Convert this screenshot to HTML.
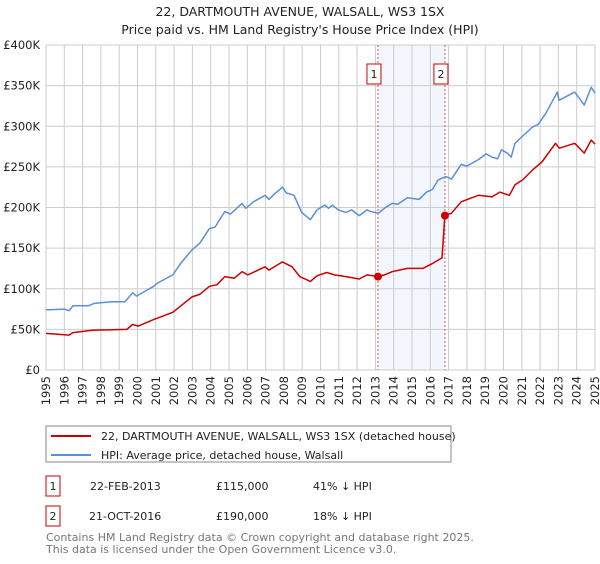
<!DOCTYPE html>
<html><head><meta charset="utf-8"><style>
body{margin:0;background:#fff;font-family:"DejaVu Sans","Liberation Sans",sans-serif;}
svg text{font-family:"DejaVu Sans","Liberation Sans",sans-serif;}
</style></head><body>
<svg id="c" width="600" height="560" xmlns="http://www.w3.org/2000/svg">
<text x="300" y="16" text-anchor="middle" font-size="12.5" fill="#222">22, DARTMOUTH AVENUE, WALSALL, WS3 1SX</text>
<text x="300" y="34" text-anchor="middle" font-size="12.5" fill="#222">Price paid vs. HM Land Registry's House Price Index (HPI)</text>
<g id="plot"></g>
<rect x="46" y="426" width="405" height="36" fill="none" stroke="#888"/>
<line x1="51" y1="436" x2="91" y2="436" stroke="#cc0000" stroke-width="2"/>
<text x="101" y="440" font-size="11" fill="#222">22, DARTMOUTH AVENUE, WALSALL, WS3 1SX (detached house)</text>
<line x1="51" y1="455" x2="91" y2="455" stroke="#5b8fd6" stroke-width="2"/>
<text x="101" y="459" font-size="11" fill="#222">HPI: Average price, detached house, Walsall</text>
<rect x="46" y="476" width="14" height="20" fill="none" stroke="#cc0000"/>
<text x="53" y="490" text-anchor="middle" font-size="11" fill="#222">1</text>
<text x="90" y="490" font-size="11" fill="#222">22-FEB-2013</text>
<text x="216" y="490" font-size="11" fill="#222">£115,000</text>
<text x="313" y="490" font-size="11" fill="#222">41% ↓ HPI</text>
<rect x="46" y="506" width="14" height="20" fill="none" stroke="#cc0000"/>
<text x="53" y="520" text-anchor="middle" font-size="11" fill="#222">2</text>
<text x="89" y="520" font-size="11" fill="#222">21-OCT-2016</text>
<text x="216" y="520" font-size="11" fill="#222">£190,000</text>
<text x="313" y="520" font-size="11" fill="#222">18% ↓ HPI</text>
<text x="46" y="541" font-size="11" fill="#777">Contains HM Land Registry data © Crown copyright and database right 2025.</text>
<text x="46" y="553" font-size="11" fill="#777">This data is licensed under the Open Government Licence v3.0.</text>
</svg>
<script>
const yTicks=[0,50,100,150,200,250,300,350,400];
const yTickLabels=["£0","£50K","£100K","£150K","£200K","£250K","£300K","£350K","£400K"];
const xYears=[1995,1996,1997,1998,1999,2000,2001,2002,2003,2004,2005,2006,2007,2008,2009,2010,2011,2012,2013,2014,2015,2016,2017,2018,2019,2020,2021,2022,2023,2024,2025];
const hpiYears=[1995.0,1996.0,1996.26,1996.47,1997.31,1997.63,1998.57,1999.31,1999.73,1999.94,2000.57,2000.88,2001.09,2001.93,2002.35,2002.98,2003.40,2003.93,2004.24,2004.77,2005.08,2005.71,2005.92,2006.34,2006.97,2007.18,2007.50,2007.92,2008.13,2008.55,2008.97,2009.45,2009.81,2010.23,2010.44,2010.65,2010.97,2011.39,2011.70,2012.12,2012.54,2012.75,2013.17,2013.49,2013.91,2014.22,2014.75,2015.38,2015.80,2016.11,2016.43,2016.85,2017.16,2017.69,2018.00,2018.63,2019.05,2019.37,2019.68,2019.89,2020.21,2020.42,2020.63,2021.05,2021.58,2021.89,2022.31,2022.94,2023.04,2023.89,2024.41,2024.79,2025.0];
const hpiValues=[74,75,73,79,79,82,84,84,95,91,99,103,107,117,131,148,156,174,176,195,192,205,199,207,215,210,217,225,218,215,194,185,197,203,199,203,197,194,197,190,197,195,193,199,205,204,212,210,219,222,234,238,235,253,251,259,266,262,260,271,267,262,279,288,299,302,316,342,332,342,326,348,341];
const priceYears=[1995.0,1996.26,1996.47,1997.52,1999.41,1999.73,2000.04,2000.88,2001.93,2002.98,2003.40,2003.93,2004.35,2004.77,2005.29,2005.71,2006.03,2006.97,2007.18,2007.92,2008.45,2008.87,2009.45,2009.81,2010.34,2010.76,2011.39,2012.12,2012.54,2013.14,2013.49,2013.91,2014.75,2015.59,2016.11,2016.64,2016.80,2017.16,2017.69,2018.63,2019.37,2019.79,2020.32,2020.63,2021.05,2021.58,2022.10,2022.84,2023.05,2023.89,2024.41,2024.79,2025.0];
const priceValues=[45,43,46,49,50,56,54,62,71,90,93,103,105,115,113,121,117,127,123,133,127,115,109,116,120,117,115,112,117,115,117,121,125,125,131,138,190,193,207,215,213,219,215,228,234,246,256,279,273,279,267,283,278];
const saleYears=[2013.14,2016.80];
const saleValues=[115,190];
const saleLabels=["1","2"];

const X0=46,X1=595,Y0=370,Y1=45;
const xs=y=>X0+(y-1995)/30*(X1-X0);
const ys=v=>Y0-v/400*(Y0-Y1);
const NS="http://www.w3.org/2000/svg";
const g=document.getElementById('plot');
function mk(t,a){const e=document.createElementNS(NS,t);for(const k in a)e.setAttribute(k,a[k]);g.appendChild(e);return e;}
let e=mk('rect',{x:xs(saleYears[0]),y:Y1,width:xs(saleYears[1])-xs(saleYears[0]),height:Y0-Y1,fill:'#f3f6fd'});


yTicks.forEach((v,i)=>{
 let l=mk('line',{x1:X0,x2:X1,y1:ys(v),y2:ys(v),stroke:'#cccccc','stroke-width':1});
 
 
 let t=mk('text',{x:X0-6,y:ys(v)+4,'text-anchor':'end','font-size':11.5,fill:'#222'});
 t.textContent=yTickLabels[i];
 
 
});
xYears.forEach(yr=>{
 let l=mk('line',{x1:xs(yr),x2:xs(yr),y1:Y1,y2:Y0,stroke:'#cccccc','stroke-width':1});
 
 
 let t=mk('text',{x:0,y:0,'text-anchor':'end','font-size':11.5,fill:'#222',transform:`translate(${xs(yr)+4},${Y0+6}) rotate(-90)`});
 t.textContent=yr;
 
 
});
saleYears.forEach((yr,i)=>{
 let l=mk('line',{x1:xs(yr),x2:xs(yr),y1:Y1,y2:Y0,stroke:'#e05050','stroke-width':1,'stroke-dasharray':'2,2'});
 
 
 let r=mk('rect',{x:xs(yr)-11,y:64,width:14,height:20,fill:'#fff',stroke:'#cc0000'});
 
 
 let t=mk('text',{x:xs(yr)-4,y:78,'text-anchor':'middle','font-size':11,fill:'#222'});
 t.textContent=saleLabels[i];
 
 
});
function line(xa,va,color,name){
 const d=xa.map((x,i)=>(i?'L':'M')+xs(x).toFixed(1)+','+ys(va[i]).toFixed(1)).join('');
 const p=mk('path',{d:d,fill:'none',stroke:color,'stroke-width':1.5,'stroke-linejoin':'round'});
 
 
}
line(hpiYears,hpiValues,'#5b8fd6','hpi-line');
line(priceYears,priceValues,'#cc0000','price-paid-line');
saleYears.forEach((yr,i)=>{
 const c=mk('circle',{cx:xs(yr),cy:ys(saleValues[i]),r:4,fill:'#cc0000'});
 
 
});
</script>
</body></html>
